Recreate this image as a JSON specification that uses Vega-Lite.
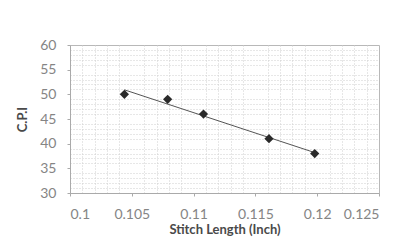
{
  "$schema": "https://vega.github.io/schema/vega-lite/v6.json",
  "width": 309,
  "height": 148,
  "autosize": "none",
  "padding": {"left": 70, "top": 45, "right": 31, "bottom": 56},
  "background": "white",
  "config": {
    "view": {"stroke": "#b8b8b8", "strokeWidth": 1},
    "font": "Lato",
    "axis": {"labelFont": "Lato", "titleFont": "Lato"}
  },
  "data": {
    "values": [
      {"sl": 0.1044, "cpi": 50},
      {"sl": 0.1079, "cpi": 49},
      {"sl": 0.1108, "cpi": 46},
      {"sl": 0.1161, "cpi": 41},
      {"sl": 0.1198, "cpi": 38}
    ]
  },
  "resolve": {"axis": {"x": "independent", "y": "independent"}},
  "layer": [
    {
      "mark": {"type": "point", "opacity": 0},
      "encoding": {
        "x": {"field": "sl", "type": "quantitative", "scale": {"domain": [0.1, 0.125], "nice": false, "zero": false},
          "axis": {"orient": "bottom", "values": [0.101,0.102,0.103,0.104,0.106,0.107,0.108,0.109,0.111,0.112,0.113,0.114,0.116,0.117,0.118,0.119,0.121,0.122,0.123,0.124], "labels": false, "ticks": false, "domain": false, "title": null, "gridColor": "#cfcfcf", "gridDash": [1, 2], "gridWidth": 1}},
        "y": {"field": "cpi", "type": "quantitative", "scale": {"domain": [30, 60], "nice": false, "zero": false},
          "axis": {"orient": "left", "values": [31,32,33,34,36,37,38,39,41,42,43,44,46,47,48,49,51,52,53,54,56,57,58,59], "labels": false, "ticks": false, "domain": false, "title": null, "gridColor": "#cfcfcf", "gridDash": [1, 2], "gridWidth": 1}}
      }
    },
    {
      "mark": {"type": "point", "opacity": 0},
      "encoding": {
        "x": {"field": "sl", "type": "quantitative", "scale": {"domain": [0.1, 0.125], "nice": false, "zero": false},
          "axis": {"orient": "bottom", "values": [0.1, 0.105, 0.11, 0.115, 0.12, 0.125], "labelExpr": "format(datum.value, '~g')", "title": "Stitch  Length (Inch)", "titleFontSize": 13, "titleFontWeight": "bold", "titleColor": "#4a4a4a", "titlePadding": 2, "labelFontSize": 14, "labelColor": "#858585", "labelPadding": 11, "tickSize": 3, "tickColor": "#aaa", "domainColor": "#aaa", "gridColor": "#a0a0a0", "gridDash": [2, 1], "gridWidth": 1}},
        "y": {"field": "cpi", "type": "quantitative", "scale": {"domain": [30, 60], "nice": false, "zero": false},
          "axis": {"orient": "left", "values": [30, 35, 40, 45, 50, 55, 60], "title": "C.P.I", "titleFontSize": 13, "titleFontWeight": "bold", "titleColor": "#4a4a4a", "titlePadding": 10, "labelFontSize": 14, "labelColor": "#858585", "labelPadding": 11, "tickSize": 3, "tickColor": "#aaa", "domainColor": "#aaa", "gridColor": "#a0a0a0", "gridDash": [2, 1], "gridWidth": 1}}
      }
    },
    {
      "transform": [{"regression": "cpi", "on": "sl"}],
      "mark": {"type": "line", "color": "#555", "strokeWidth": 1},
      "encoding": {
        "x": {"field": "sl", "type": "quantitative", "axis": null},
        "y": {"field": "cpi", "type": "quantitative", "axis": null}
      }
    },
    {
      "mark": {"type": "point", "shape": "diamond", "filled": true, "color": "#2a2a2a", "size": 85, "opacity": 1},
      "encoding": {
        "x": {"field": "sl", "type": "quantitative", "axis": null},
        "y": {"field": "cpi", "type": "quantitative", "axis": null}
      }
    }
  ]
}
